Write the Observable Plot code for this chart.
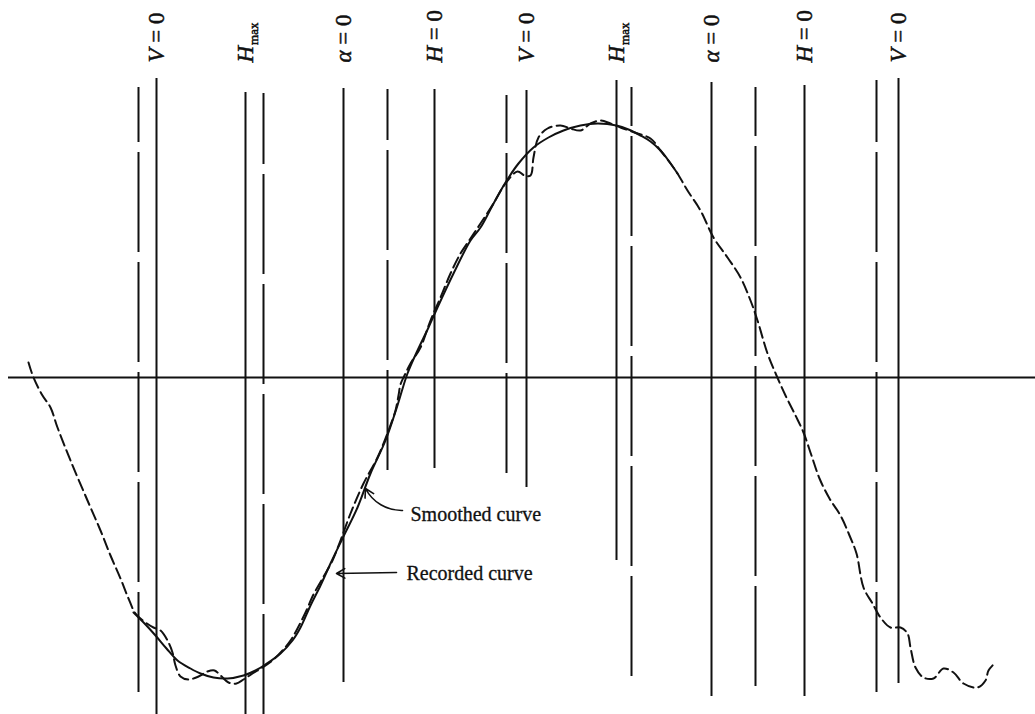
<!DOCTYPE html>
<html>
<head>
<meta charset="utf-8">
<script src="https://cdn.jsdelivr.net/npm/d3@7"></script>
<script src="https://cdn.jsdelivr.net/npm/@observablehq/plot@0.6"></script>
<style>
  html, body { margin: 0; padding: 0; background: #fff; }
  #chart svg { display: block; }
</style>
</head>
<body>
<div id="chart"></div>
<script>
// ---- data (x: time units, y: amplitude units; 0 = reference axis) ----
const axisExtent = [8, 1035];

const solidX   = [156, 245, 343, 434, 526, 616, 711, 804, 898];
const solidTop = [299, 285, 289, 288, 287, 297, 295, 292, 299];
const solidBot = [-337, -337, -305, -91, -110, -183, -319, -319, -306];

const dashedX   = [138, 263, 387, 506, 631, 755, 876];
const dashedTop = [290, 284, 288, 282, 290, 290, 297];
const dashedBot = [-315, -337, -93, -96, -299, -309, -315];

const labelX    = [156, 245, 343, 434, 526, 616, 711, 804, 898];
const labelText = ["V = 0", "Hmax", "α = 0", "H = 0", "V = 0", "Hmax", "α = 0", "H = 0", "V = 0"];

const recordedX = [28, 33, 42, 50, 57, 70, 87, 100, 110, 120, 128, 135, 145, 153, 160, 167, 172, 175, 180, 188, 198, 207, 214, 220, 228, 236, 243, 252, 262, 272, 282, 290, 297, 305, 313, 322, 332, 340, 350, 363, 377, 388, 395, 398, 400, 404, 410, 420, 430, 440, 450, 460, 470, 480, 493, 505, 517, 524, 530, 533, 538, 547, 560, 570, 580, 590, 600, 610, 620, 637, 650, 660, 670, 677, 687, 700, 713, 727, 740, 750, 757, 767, 776, 785, 795, 803, 811, 819, 829, 840, 849, 856, 863, 872, 880, 890, 900, 907, 910, 915, 923, 933, 943, 953, 963, 977, 985, 988, 995];
const recordedY = [15, 0, -18, -30, -50, -83, -123, -153, -178, -201, -221, -236, -245, -250, -253, -263, -275, -288, -299, -302, -299, -294, -293, -298, -305, -306, -302, -296, -290, -283, -273, -263, -251, -235, -217, -201, -183, -163, -136, -106, -80, -53, -33, -18, -7, 2, 14, 30, 57, 80, 104, 124, 139, 154, 174, 194, 206, 202, 202, 220, 240, 249, 252, 249, 247, 254, 257, 254, 250, 244, 239, 227, 214, 204, 187, 167, 140, 120, 100, 77, 57, 24, 2, -18, -38, -55, -78, -101, -121, -138, -158, -176, -210, -226, -240, -250, -250, -256, -270, -290, -300, -301, -291, -295, -306, -310, -303, -293, -285];

const smoothX = [133, 145, 155, 166, 177, 190, 200, 213, 227, 243, 255, 265, 280, 292, 300, 310, 320, 330, 342, 357, 370, 385, 396, 407, 417, 428, 437, 453, 470, 480, 492, 505, 518, 533, 548, 563, 580, 597, 616, 628, 640, 650, 660, 668, 677];
const smoothY = [-235, -247, -258, -271, -283, -291, -296, -300, -301, -298, -293, -287, -276, -263, -250, -228, -208, -186, -161, -130, -96, -63, -31, 4, 27, 50, 70, 104, 137, 150, 172, 195, 214, 230, 240, 247, 252, 254, 252, 248, 242, 236, 227, 217, 204];

const annoText = ["Smoothed curve", "Recorded curve"];
const annoX    = [410, 406];
const annoY    = [-137, -196];
const arrowX1  = [402, 396];
const arrowY1  = [-133, -195];
const arrowX2  = [365, 336];
const arrowY2  = [-111, -196];
const arrowBend = [32, 0];

// ---- build tables ----
const solid = solidX.map((x, i) => ({x, y1: solidBot[i], y2: solidTop[i]}));
const dashed = dashedX.map((x, i) => ({x, y1: dashedBot[i], y2: dashedTop[i]}));
const labels = labelX.map((x, i) => ({x, text: labelText[i], y: 315}));
const recorded = recordedX.map((x, i) => ({x, y: recordedY[i]}));
const smooth = smoothX.map((x, i) => ({x, y: smoothY[i]}));
const annos = annoText.map((t, i) => ({text: t, x: annoX[i], y: annoY[i]}));
const arrows = arrowX1.map((x, i) => ({x1: x, y1: arrowY1[i], x2: arrowX2[i], y2: arrowY2[i], bend: arrowBend[i]}));

const ink = "#111";
const serif = "'Liberation Serif', 'DejaVu Serif', serif";

const chart = Plot.plot({
  width: 1035,
  height: 714,
  margin: 0,
  x: {domain: [0, 1035], axis: null},
  y: {domain: [-337, 377], axis: null},
  style: {background: "#fff", fontFamily: serif},
  marks: [
    Plot.ruleY([0], {x1: axisExtent[0], x2: axisExtent[1], stroke: ink, strokeWidth: 2}),
    Plot.ruleX(solid, {x: "x", y1: "y1", y2: "y2", stroke: ink, strokeWidth: 2}),
    Plot.ruleX(dashed, {x: "x", y1: "y1", y2: "y2", stroke: ink, strokeWidth: 2, strokeDasharray: "100,10"}),
    Plot.line(recorded, {x: "x", y: "y", curve: "catmull-rom", stroke: ink, strokeWidth: 2, strokeDasharray: "11,5"}),
    Plot.line(smooth, {x: "x", y: "y", curve: "catmull-rom", stroke: ink, strokeWidth: 2}),
    Plot.text(labels, {x: "x", y: "y", text: "text", rotate: -90, textAnchor: "start", lineAnchor: "middle", fontSize: 23, fill: ink, stroke: ink, strokeWidth: 0.5}),
    Plot.text(annos, {x: "x", y: "y", text: "text", textAnchor: "start", lineAnchor: "middle", fontSize: 20, fill: ink, stroke: ink, strokeWidth: 0.3}),
    Plot.arrow(arrows.filter(d => d.bend !== 0), {x1: "x1", y1: "y1", x2: "x2", y2: "y2", bend: 32, stroke: ink, strokeWidth: 1.6, headLength: 9}),
    Plot.arrow(arrows.filter(d => d.bend === 0), {x1: "x1", y1: "y1", x2: "x2", y2: "y2", stroke: ink, strokeWidth: 1.6, headLength: 9})
  ]
});

// italic variables and subscripts in the top labels
const NS = "http://www.w3.org/2000/svg";
chart.querySelectorAll("text").forEach(t => {
  const s = t.textContent;
  if (!labelText.includes(s)) return;
  t.textContent = "";
  const a = document.createElementNS(NS, "tspan");
  a.setAttribute("font-style", "italic");
  a.textContent = s[0];
  t.appendChild(a);
  const b = document.createElementNS(NS, "tspan");
  if (s === "Hmax") {
    b.setAttribute("font-size", "13");
    b.setAttribute("dy", "5");
    b.setAttribute("dx", "1");
  }
  b.textContent = s.slice(1);
  t.appendChild(b);
});

document.getElementById("chart").appendChild(chart);
</script>
</body>
</html>
